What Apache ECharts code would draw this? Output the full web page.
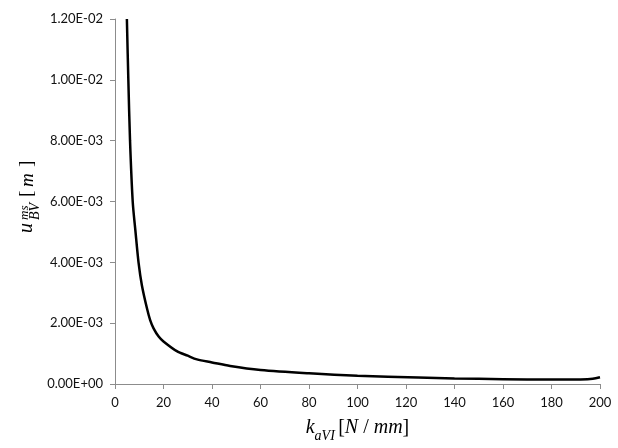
<html>
<head>
    <meta charset="utf-8">
    <title>ECharts</title>
    <script src="https://cdn.jsdelivr.net/npm/echarts@6/dist/echarts.min.js"></script>
</head>
<body style="margin:0">
<div id="main" style="width: 618px;height:448px;"></div>
<script type="text/javascript">
    // values
    var kValues = [4.9, 5.5, 6.2, 7.3, 8.4, 9.7, 11.1, 13.2, 14.5, 15.9, 18, 20, 25.5, 30, 33.8, 40, 47.5, 60, 80, 100, 125, 140, 160, 180, 192, 197, 200];
    var uValues = [0.012, 0.010, 0.008, 0.006, 0.00505, 0.0040, 0.00324, 0.00248, 0.0021, 0.00183, 0.00156, 0.00140, 0.00108, 0.00093, 0.00081, 0.00071, 0.00059, 0.00046, 0.00035, 0.00027, 0.00021, 0.00018, 0.00016, 0.000145, 0.00015, 0.00017, 0.00022];
    var xTicks = { min: 0, max: 200, interval: 20 };
    var yTicks = { min: 0, max: 0.012, interval: 0.002 };

    var data = [];
    for (var i = 0; i < kValues.length; i++) {
        data.push([kValues[i], uValues[i]]);
    }

    // 1.20E-02 style labels
    function sci(v) {
        if (Math.abs(v) < 1e-12) return '0.00E+00';
        var s = v.toExponential(2).split('e');
        var e = parseInt(s[1], 10);
        var sign = e < 0 ? '-' : '+';
        var a = Math.abs(e);
        return s[0] + 'E' + sign + (a < 10 ? '0' + a : a);
    }

    var labelFont = 'Lato, "Open Sans", sans-serif';
    var mathFont = '"Liberation Serif", "DejaVu Serif", serif';

    var myChart = echarts.init(document.getElementById('main'));

    var option = {
        animation: false,
        backgroundColor: '#fff',
        grid: { left: 115, right: 18, top: 19, bottom: 58 },
        xAxis: {
            type: 'value',
            min: xTicks.min, max: xTicks.max, interval: xTicks.interval,
            splitLine: { show: false },
            axisLine: { lineStyle: { color: '#8c8c8c', width: 1 } },
            axisTick: { show: true, length: 5, lineStyle: { color: '#8c8c8c' } },
            axisLabel: { color: '#111', fontFamily: labelFont, fontSize: 13, margin: 12 },
            name: '{i|k}{sub|aVI} {r|[}{i|N}{r| / }{i|mm}{r|]}',
            nameLocation: 'middle',
            nameGap: 29,
            nameTextStyle: {
                rich: {
                    i: { fontFamily: mathFont, fontStyle: 'italic', fontSize: 20, color: '#000', lineHeight: 30, verticalAlign: 'middle' },
                    r: { fontFamily: mathFont, fontSize: 20, color: '#000', lineHeight: 30, verticalAlign: 'middle' },
                    sub: { fontFamily: mathFont, fontStyle: 'italic', fontSize: 14, color: '#000', lineHeight: 14, verticalAlign: 'bottom' }
                }
            }
        },
        yAxis: {
            type: 'value',
            min: yTicks.min, max: yTicks.max, interval: yTicks.interval,
            splitLine: { show: false },
            axisLine: { show: true, lineStyle: { color: '#8c8c8c', width: 1 } },
            axisTick: { show: true, length: 5, lineStyle: { color: '#8c8c8c' } },
            axisLabel: { color: '#111', fontFamily: labelFont, fontSize: 13, margin: 12, formatter: sci }
        },
        graphic: [{
            // y axis title, rotated
            type: 'group',
            x: 33, y: 233,
            rotation: Math.PI / 2,
            children: [
                { type: 'text', x: 0, y: 4, style: { text: 'u', font: 'italic 20px ' + mathFont, fill: '#000', align: 'left', verticalAlign: 'bottom' } },
                { type: 'text', x: 13, y: -2, style: { text: 'ms', font: 'italic 13px ' + mathFont, fill: '#000', align: 'left', verticalAlign: 'bottom' } },
                { type: 'text', x: 13, y: 9, style: { text: 'BV', font: 'italic 14px ' + mathFont, fill: '#000', align: 'left', verticalAlign: 'bottom' } },
                { type: 'text', x: 36, y: 4, style: { text: '[', font: '19px ' + mathFont, fill: '#000', align: 'left', verticalAlign: 'bottom' } },
                { type: 'text', x: 46, y: 4, style: { text: 'm', font: 'italic 19px ' + mathFont, fill: '#000', align: 'left', verticalAlign: 'bottom' } },
                { type: 'text', x: 66, y: 4, style: { text: ']', font: '19px ' + mathFont, fill: '#000', align: 'left', verticalAlign: 'bottom' } }
            ]
        }],
        series: [{
            type: 'line',
            data: data,
            smooth: 0.3,
            showSymbol: false,
            lineStyle: { color: '#000', width: 2.5 }
        }]
    };

    myChart.setOption(option);
</script>
</body>
</html>
